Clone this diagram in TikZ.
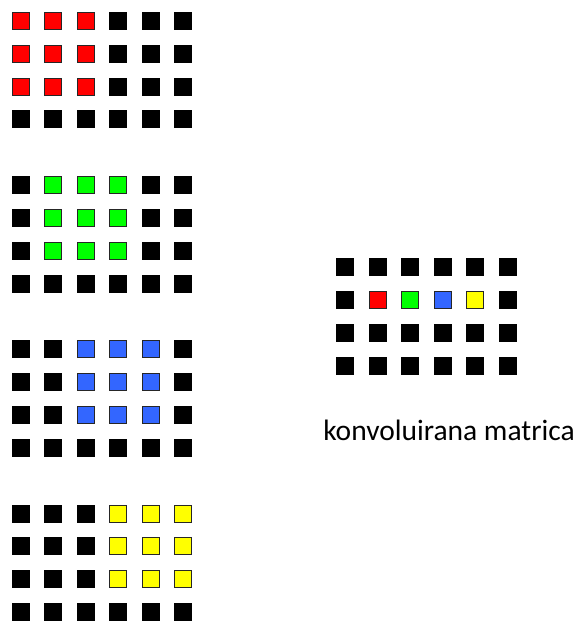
\documentclass[tikz,border=0pt]{standalone}
\usepackage{fontspec}
\setmainfont{Carlito}
\usetikzlibrary{positioning}
\definecolor{kred}{HTML}{FF0000}
\definecolor{kgreen}{HTML}{00FF00}
\definecolor{kblue}{HTML}{3366FF}
\definecolor{kyellow}{HTML}{FFFF00}
\definecolor{rim}{HTML}{262626}

\begin{document}
\begin{tikzpicture}[x=1pt, y=-1pt,
  cell/.style={rectangle, draw=black, fill=black, line width=0.6pt,
               minimum size=17pt, inner sep=0pt},
  hot/.style={cell, draw=rim, fill=#1},
  caption/.style={font=\fontsize{29.5}{35}\selectfont, text=black, anchor=base},
]
  \useasboundingbox (0,0) rectangle (576,621);
  % four input matrices, a 3x3 window sliding right
  \foreach \g/\col in {0/kred,1/kgreen,2/kblue,3/kyellow} {
    \foreach \r in {0,...,3} {
      \foreach \c in {0,...,5} {
        \pgfmathtruncatemacro\hit{(\r<3)&&(\c>=\g)&&(\c<=\g+2)}
        \ifnum\hit=1
          \node[hot=\col] (in\g-\r-\c) at ({20.8+32.4*\c},{20.8+164.2*\g+32.8*\r}) {};
        \else
          \node[cell] (in\g-\r-\c) at ({20.8+32.4*\c},{20.8+164.2*\g+32.8*\r}) {};
        \fi
      }
    }
  }
  % convolved matrix, one coloured cell per window
  \foreach \r in {0,...,3} {
    \foreach \c in {0,...,5} {
      \pgfmathtruncatemacro\hit{(\r==1)&&(\c>=1)&&(\c<=4)}
      \ifnum\hit=1
        \edef\fc{\ifcase\c\or kred\or kgreen\or kblue\or kyellow\fi}
        \node[hot=\fc] (out-\r-\c) at ({345+32.5*\c},{267+32.9*\r}) {};
      \else
        \node[cell] (out-\r-\c) at ({345+32.5*\c},{267+32.9*\r}) {};
      \fi
    }
  }
  \node[caption] (label) at (449,440) {konvoluirana matrica};
\end{tikzpicture}
\end{document}
